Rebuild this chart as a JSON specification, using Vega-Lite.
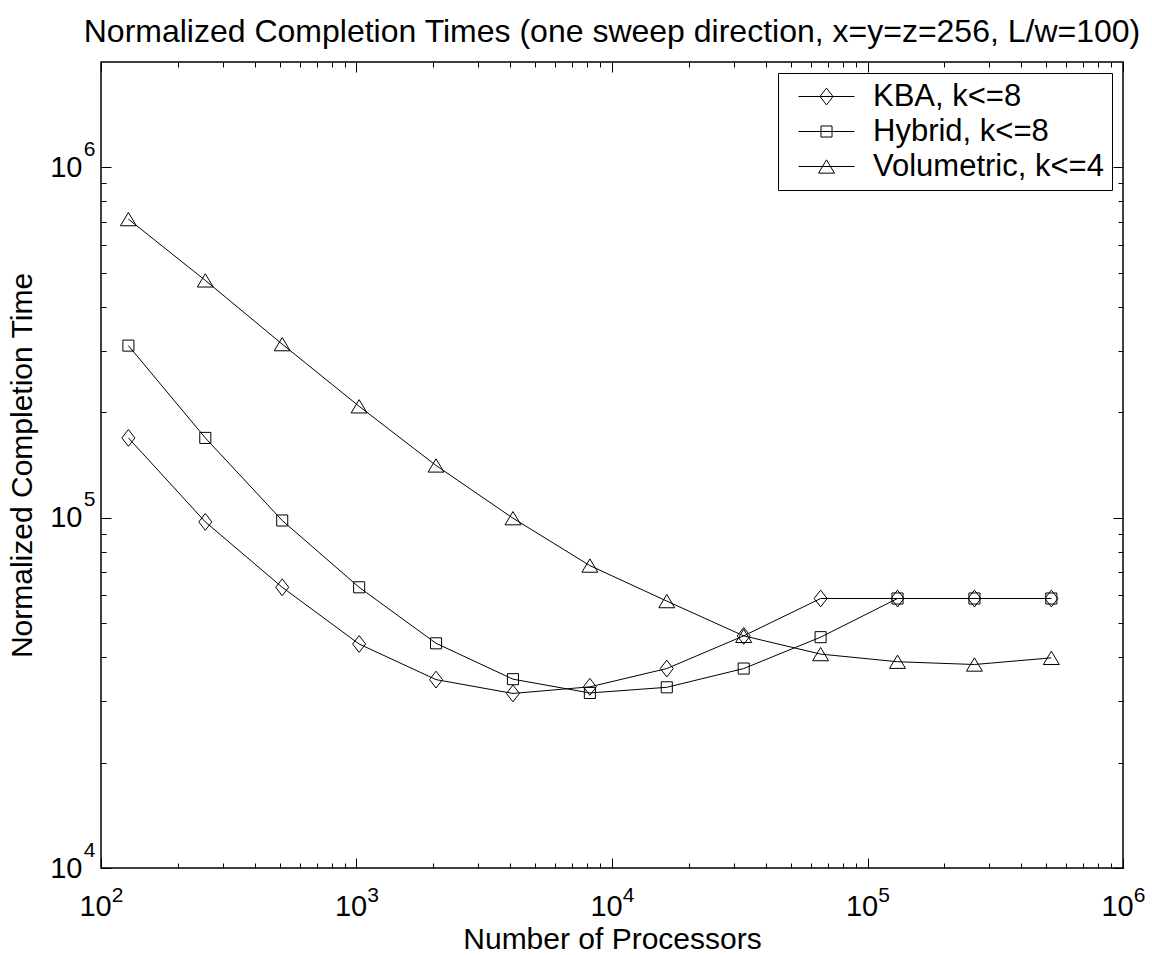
{
  "$schema": "https://vega.github.io/schema/vega-lite/v6.json",
  "width": 1022,
  "height": 806,
  "autosize": {"type": "none"},
  "padding": {"left": 101, "top": 62, "right": 29, "bottom": 87},
  "background": "white",
  "title": {
    "text": "Normalized Completion Times (one sweep direction, x=y=z=256, L/w=100)",
    "font": "Liberation Sans",
    "fontSize": 32,
    "fontWeight": "normal",
    "color": "black",
    "offset": 13
  },
  "config": {
    "font": "Liberation Sans",
    "view": {"stroke": "black", "strokeWidth": 1.5},
    "axis": {
      "grid": false,
      "domain": false,
      "tickColor": "black",
      "tickWidth": 1,
      "labelColor": "black",
      "titleColor": "black",
      "labelFont": "Liberation Sans",
      "titleFont": "Liberation Sans",
      "titleFontWeight": "normal",
      "labelFontSize": 29,
      "titleFontSize": 30,
      "labelFlush": false,
      "labelOverlap": false
    }
  },
  "data": {
    "values": [
      {"p": 128, "t": 169000, "series": "KBA, k<=8"},
      {"p": 256, "t": 97300, "series": "KBA, k<=8"},
      {"p": 512, "t": 63300, "series": "KBA, k<=8"},
      {"p": 1024, "t": 43600, "series": "KBA, k<=8"},
      {"p": 2048, "t": 34500, "series": "KBA, k<=8"},
      {"p": 4096, "t": 31500, "series": "KBA, k<=8"},
      {"p": 8192, "t": 32900, "series": "KBA, k<=8"},
      {"p": 16384, "t": 37100, "series": "KBA, k<=8"},
      {"p": 32768, "t": 46000, "series": "KBA, k<=8"},
      {"p": 65536, "t": 58800, "series": "KBA, k<=8"},
      {"p": 131072, "t": 58800, "series": "KBA, k<=8"},
      {"p": 262144, "t": 58800, "series": "KBA, k<=8"},
      {"p": 524288, "t": 58800, "series": "KBA, k<=8"},
      {"p": 128, "t": 310000, "series": "Hybrid, k<=8"},
      {"p": 256, "t": 169000, "series": "Hybrid, k<=8"},
      {"p": 512, "t": 98200, "series": "Hybrid, k<=8"},
      {"p": 1024, "t": 63300, "series": "Hybrid, k<=8"},
      {"p": 2048, "t": 43800, "series": "Hybrid, k<=8"},
      {"p": 4096, "t": 34600, "series": "Hybrid, k<=8"},
      {"p": 8192, "t": 31600, "series": "Hybrid, k<=8"},
      {"p": 16384, "t": 32800, "series": "Hybrid, k<=8"},
      {"p": 32768, "t": 37100, "series": "Hybrid, k<=8"},
      {"p": 65536, "t": 45600, "series": "Hybrid, k<=8"},
      {"p": 131072, "t": 58800, "series": "Hybrid, k<=8"},
      {"p": 262144, "t": 58800, "series": "Hybrid, k<=8"},
      {"p": 524288, "t": 58800, "series": "Hybrid, k<=8"},
      {"p": 128, "t": 712000, "series": "Volumetric, k<=4"},
      {"p": 256, "t": 476000, "series": "Volumetric, k<=4"},
      {"p": 512, "t": 313000, "series": "Volumetric, k<=4"},
      {"p": 1024, "t": 208000, "series": "Volumetric, k<=4"},
      {"p": 2048, "t": 141000, "series": "Volumetric, k<=4"},
      {"p": 4096, "t": 99700, "series": "Volumetric, k<=4"},
      {"p": 8192, "t": 73000, "series": "Volumetric, k<=4"},
      {"p": 16384, "t": 57800, "series": "Volumetric, k<=4"},
      {"p": 32768, "t": 46000, "series": "Volumetric, k<=4"},
      {"p": 65536, "t": 40800, "series": "Volumetric, k<=4"},
      {"p": 131072, "t": 38800, "series": "Volumetric, k<=4"},
      {"p": 262144, "t": 38100, "series": "Volumetric, k<=4"},
      {"p": 524288, "t": 39800, "series": "Volumetric, k<=4"}
    ]
  },
  "layer": [
    {
      "mark": {"type": "line", "color": "black", "strokeWidth": 1},
      "encoding": {
        "x": {
          "field": "p", "type": "quantitative",
          "scale": {"type": "log", "domain": [100, 1000000], "nice": false},
          "axis": {"orient": "bottom", "values": [100, 1000, 10000, 100000, 1000000], "tickSize": -10, "labels": false, "title": null}
        },
        "y": {
          "field": "t", "type": "quantitative",
          "scale": {"type": "log", "domain": [10000, 2000000], "nice": false},
          "axis": {"orient": "left", "values": [10000, 100000, 1000000], "tickSize": -10, "labels": false, "title": null}
        },
        "detail": {"field": "series", "type": "nominal"}
      }
    },
    {
      "mark": {"type": "point", "filled": false, "color": "black", "strokeWidth": 1, "opacity": 1, "size": 196},
      "encoding": {
        "x": {
          "field": "p", "type": "quantitative",
          "axis": {"orient": "bottom", "values": [200, 300, 400, 500, 600, 700, 800, 900, 2000, 3000, 4000, 5000, 6000, 7000, 8000, 9000, 20000, 30000, 40000, 50000, 60000, 70000, 80000, 90000, 200000, 300000, 400000, 500000, 600000, 700000, 800000, 900000], "tickSize": -5, "labels": false, "title": null}
        },
        "y": {
          "field": "t", "type": "quantitative",
          "axis": {"orient": "left", "values": [20000, 30000, 40000, 50000, 60000, 70000, 80000, 90000, 200000, 300000, 400000, 500000, 600000, 700000, 800000, 900000], "tickSize": -5, "labels": false, "title": null}
        },
        "shape": {
          "field": "series", "type": "nominal",
          "scale": {
            "domain": ["KBA, k<=8", "Hybrid, k<=8", "Volumetric, k<=4"],
            "range": ["M-0.93,0L0,-1.2L0.93,0L0,1.2Z", "M-0.79,-0.79H0.79V0.79H-0.79Z", "M0,-0.95L1.14,0.95L-1.14,0.95Z"]
          },
          "legend": null
        }
      }
    },
    {
      "mark": {"type": "point", "opacity": 0, "filled": false, "color": "black", "strokeWidth": 1, "size": 196},
      "encoding": {
        "x": {"field": "p", "type": "quantitative", "axis": {"orient": "top", "values": [100, 1000, 10000, 100000, 1000000], "tickSize": -10, "labels": false, "title": null}},
        "y": {"field": "t", "type": "quantitative", "axis": {"orient": "right", "values": [10000, 100000, 1000000], "tickSize": -10, "labels": false, "title": null}},
        "shape": {
          "field": "series", "type": "nominal",
          "scale": {
            "domain": ["KBA, k<=8", "Hybrid, k<=8", "Volumetric, k<=4"],
            "range": ["M-4,0H4M-0.93,0L0,-1.2L0.93,0L0,1.2Z", "M-4,0H4M-0.79,-0.79H0.79V0.79H-0.79Z", "M-4,0H4M0,-0.95L1.14,0.95L-1.14,0.95Z"]
          },
          "legend": {
            "title": null,
            "orient": "top-right",
            "offset": 11,
            "padding": 8,
            "strokeColor": "black",
            "fillColor": "white",
            "cornerRadius": 0,
            "labelFont": "Liberation Sans",
            "labelFontSize": 31,
            "labelColor": "black",
            "labelLimit": 500,
            "symbolSize": 196,
            "symbolStrokeColor": "black",
            "symbolFillColor": "transparent",
            "symbolStrokeWidth": 1,
            "symbolOpacity": 1,
            "symbolOffset": 25,
            "labelOffset": 31,
            "rowPadding": 3,
            "encode": {
              "legend": {"strokeWidth": {"value": 1.5}}
            }
          }
        }
      }
    },
    {
      "mark": {"type": "point", "opacity": 0},
      "encoding": {
        "x": {"field": "p", "type": "quantitative", "axis": {"orient": "top", "values": [200, 300, 400, 500, 600, 700, 800, 900, 2000, 3000, 4000, 5000, 6000, 7000, 8000, 9000, 20000, 30000, 40000, 50000, 60000, 70000, 80000, 90000, 200000, 300000, 400000, 500000, 600000, 700000, 800000, 900000], "tickSize": -5, "labels": false, "title": null}},
        "y": {"field": "t", "type": "quantitative", "axis": {"orient": "right", "values": [20000, 30000, 40000, 50000, 60000, 70000, 80000, 90000, 200000, 300000, 400000, 500000, 600000, 700000, 800000, 900000], "tickSize": -5, "labels": false, "title": null}}
      }
    },
    {
      "mark": {"type": "point", "opacity": 0},
      "encoding": {
        "x": {"field": "p", "type": "quantitative", "axis": {"orient": "bottom", "values": [100, 1000, 10000, 100000, 1000000], "ticks": false, "tickSize": 0, "labelExpr": "'10'", "labelBaseline": "alphabetic", "labelPadding": 47, "labelOffset": -6, "title": "Number of Processors", "titlePadding": 3}},
        "y": {"field": "t", "type": "quantitative", "axis": {"orient": "left", "values": [10000, 100000, 1000000], "ticks": false, "tickSize": 0, "labelExpr": "'10'", "labelAlign": "right", "labelBaseline": "middle", "labelPadding": 19, "title": "Normalized Completion Time", "titlePadding": 12}}
      }
    },
    {
      "mark": {"type": "point", "opacity": 0},
      "encoding": {
        "x": {"field": "p", "type": "quantitative", "axis": {"orient": "bottom", "values": [100, 1000, 10000, 100000, 1000000], "ticks": false, "tickSize": 0, "labelExpr": "datum.value >= 999999 ? '6' : datum.value >= 99999 ? '5' : datum.value >= 9999 ? '4' : datum.value >= 999 ? '3' : '2'", "labelFontSize": 21, "labelBaseline": "alphabetic", "labelPadding": 33, "labelOffset": 16, "title": null}},
        "y": {"field": "t", "type": "quantitative", "axis": {"orient": "left", "values": [10000, 100000, 1000000], "ticks": false, "tickSize": 0, "labelExpr": "datum.value >= 999999 ? '6' : datum.value >= 99999 ? '5' : '4'", "labelFontSize": 21, "labelAlign": "right", "labelBaseline": "middle", "labelPadding": 6, "labelOffset": -18, "title": null}}
      }
    }
  ],
  "resolve": {
    "scale": {"shape": "independent"},
    "axis": {"x": "independent", "y": "independent"}
  }
}
